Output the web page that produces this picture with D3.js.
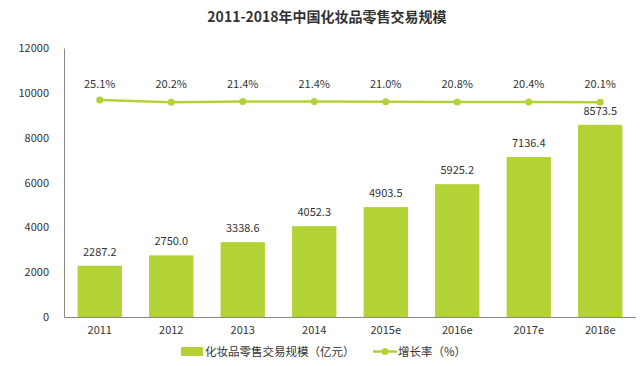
<!DOCTYPE html>
<html><head><meta charset="utf-8">
<script src="https://cdn.jsdelivr.net/npm/d3@7"></script>
<style>body{margin:0;background:#fff}svg{display:block}text{font-family:"Noto Sans CJK SC","Noto Sans",sans-serif}</style>
</head><body><svg id="c" width="642" height="366"></svg>
<script>
const categories = ["2011","2012","2013","2014","2015e","2016e","2017e","2018e"];
const marketSize = [2287.2,2750.0,3338.6,4052.3,4903.5,5925.2,7136.4,8573.5];
const growthRate = [25.1,20.2,21.4,21.4,21.0,20.8,20.4,20.1];
const yTicks = [0,2000,4000,6000,8000,10000,12000];
const title = "2011-2018年中国化妆品零售交易规模";
const legendBar = "化妆品零售交易规模（亿元）";
const legendLine = "增长率（%）";

const green = "#b3d235", txt = "#333";
const svg = d3.select("#c");
const m = {l:64, r:6, t:48, b:49};
const W = 642, H = 366;
const x = d3.scaleBand().domain(categories).range([m.l, W - m.r]).paddingInner(0.38).paddingOuter(0.19);
const y = d3.scaleLinear().domain([0,12000]).range([H - m.b, m.t]);
const y2 = d3.scaleLinear().domain([-451,139]).range([H - m.b, m.t]);

svg.append("text").attr("x",327).attr("y",22).attr("text-anchor","middle")
  .attr("font-size",14).attr("font-weight","bold").attr("fill",txt).text(title);

// y axis
const ya = svg.append("g").attr("transform",`translate(${m.l},0)`)
  .call(d3.axisLeft(y).tickValues(yTicks).tickFormat(d3.format("d")).tickSize(0).tickPadding(15));
ya.select(".domain").attr("stroke","#888");
ya.selectAll("text").attr("font-size",11).attr("fill",txt);

// x axis
const xa = svg.append("g").attr("transform",`translate(0,${H - m.b})`)
  .call(d3.axisBottom(x).tickSize(0).tickPadding(9));
xa.select(".domain").attr("stroke","#888").attr("d",`M${m.l},0.5H${W - m.r}`);
xa.selectAll("text").attr("font-size",11).attr("fill",txt);

// bars
svg.selectAll("rect.bar").data(marketSize).join("rect").attr("class","bar")
  .attr("x",(d,i)=>x(categories[i])).attr("width",x.bandwidth())
  .attr("y",d=>y(d)).attr("height",d=>y(0)-y(d)).attr("fill",green);
svg.selectAll("text.bl").data(marketSize).join("text").attr("class","bl")
  .attr("x",(d,i)=>x(categories[i])+x.bandwidth()/2).attr("y",d=>y(d)-10)
  .attr("text-anchor","middle").attr("font-size",11).attr("fill",txt).text(d=>d.toFixed(1));

// line
const cx = (d,i)=>x(categories[i])+x.bandwidth()/2;
svg.append("path").datum(growthRate)
  .attr("d",d3.line().x(cx).y(d=>y2(d)))
  .attr("fill","none").attr("stroke",green).attr("stroke-width",2.5);
svg.selectAll("circle.pt").data(growthRate).join("circle").attr("class","pt")
  .attr("cx",cx).attr("cy",d=>y2(d)).attr("r",3.5).attr("fill",green);
svg.selectAll("text.gl").data(growthRate).join("text").attr("class","gl")
  .attr("x",cx).attr("y",88).attr("text-anchor","middle")
  .attr("font-size",11).attr("fill",txt).text(d=>d.toFixed(1)+"%");

// legend
const lg = svg.append("g");
lg.append("rect").attr("x",181).attr("y",347).attr("width",22).attr("height",9).attr("fill",green);
lg.append("text").attr("x",205).attr("y",356).attr("font-size",11.5).attr("fill",txt).text(legendBar);
lg.append("line").attr("x1",373).attr("x2",397).attr("y1",351.5).attr("y2",351.5).attr("stroke",green).attr("stroke-width",2.5);
lg.append("circle").attr("cx",385).attr("cy",351.5).attr("r",3.5).attr("fill",green);
lg.append("text").attr("x",398).attr("y",356).attr("font-size",11.5).attr("fill",txt).text(legendLine);
</script></body></html>
